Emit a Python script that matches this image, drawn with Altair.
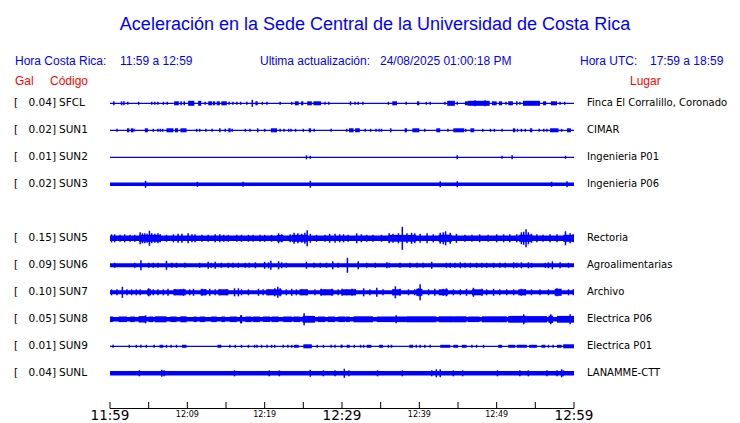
import altair as alt
import pandas as pd

# ---------------- texts ----------------
TITLE = "Aceleración en la Sede Central de la Universidad de Costa Rica"
HEADER_BLUE = ["Hora Costa Rica:", "11:59 a 12:59", "Ultima actualización:",
               "24/08/2025 01:00:18 PM", "Hora UTC:", "17:59 a 18:59"]
HEADER_RED = ["Gal", "Código", "Lugar"]

# ---------------- stations ----------------
CODES = ["SFCL", "SUN1", "SUN2", "SUN3", "SUN5", "SUN6", "SUN7", "SUN8", "SUN9", "SUNL"]
GAL = ["0.04]", "0.02]", "0.01]", "0.02]", "0.15]", "0.09]", "0.10]", "0.05]", "0.01]", "0.04]"]
PLACES = ["Finca El Corralillo, Coronado", "CIMAR", "Ingenieria P01", "Ingenieria P06",
          "Rectoria", "Agroalimentarias", "Archivo", "Electrica P06", "Electrica P01",
          "LANAMME-CTT"]
SLOT = [0, 1, 2, 3, 5, 6, 7, 8, 9, 10]          # trace order (slot 4 left empty)
BASE_AMP = [0.6, 0.6, 0.6, 1.8, 2.8, 2.0, 2.0, 2.2, 0.6, 2.3]   # background noise half-amplitude

# minutes after 11:59 ; amplitude (relative units)
SFCL_SPIKES = [(0.5, 2), (1.5, 2), (1.8, 2), (2.3, 1.5), (3.7, 1.5), (5.4, 1.5), (5.8, 1.5), (6.2, 1.5),
               (6.9, 1.5), (7.4, 1.5), (9.2, 2), (9.6, 2), (12.3, 1.5), (15.4, 1.5), (15.9, 1.5),
               (16.4, 1.5), (16.9, 1.5), (17.7, 1.5), (18.4, 3.5), (19.7, 1.5), (20.3, 1.5), (22.0, 1.5),
               (23.5, 1.5), (27.8, 1.5), (28.3, 1.5), (31.1, 2), (31.7, 1.5), (32.1, 1.5), (32.7, 1.5),
               (36.0, 1.5), (38.3, 1.5), (40.9, 1.5), (41.4, 1.5), (43.3, 1.5), (44.9, 1.5), (47.2, 3),
               (48.5, 3), (52.6, 2), (53.0, 1.5), (58.2, 1.5), (58.8, 1.5)]
SFCL_BURSTS = [(8.3, 8.9, 2), (10.1, 10.9, 2.5), (11.4, 11.8, 2.5), (12.7, 13.2, 2), (13.3, 13.6, 2),
               (13.8, 14.2, 2), (14.4, 15.1, 2), (18.8, 19.1, 2), (23.9, 24.4, 2), (24.7, 25.0, 2),
               (25.5, 26.1, 2), (26.3, 27.3, 2), (36.5, 37.1, 2), (39.7, 40.0, 2), (43.6, 44.6, 2.5),
               (45.9, 46.3, 2), (46.3, 49.1, 2.5), (49.4, 50.0, 2), (50.3, 50.7, 2), (51.1, 51.3, 1.5),
               (51.5, 52.1, 2), (53.4, 55.6, 2.5), (56.0, 56.4, 2), (57.0, 57.8, 2)]

SUN1_SPIKES = [(0.9, 1.5), (3.1, 1.5), (5.6, 1.5), (6.2, 1.5), (6.5, 1.5), (6.8, 1.5), (11.2, 1.5),
               (11.6, 1.5), (12.4, 1.5), (13.2, 1.5), (14.2, 2), (14.9, 1.5), (15.8, 1.5), (17.5, 1.5),
               (18.1, 1.5), (20.0, 1.5), (22.0, 1.5), (22.5, 1.5), (23.1, 1.5), (23.4, 1.5), (24.0, 1.5),
               (25.0, 1.5), (26.4, 1.5), (28.6, 1.5), (30.6, 1.5), (33.0, 1.5), (33.7, 1.5), (34.4, 1.5),
               (34.8, 1.5), (35.1, 1.5), (40.7, 1.5), (43.7, 1.5), (46.0, 1.5), (48.2, 1.5), (49.2, 1.5),
               (49.7, 1.5), (50.7, 1.5), (52.7, 1.5), (53.2, 1.5), (53.7, 1.5), (55.5, 1.5), (56.1, 1.5),
               (56.5, 1.5), (58.4, 1.5)]
SUN1_BURSTS = [(2.2, 2.5, 2), (2.7, 3.0, 2), (4.5, 4.9, 2), (7.3, 8.2, 2), (8.4, 8.8, 2), (9.1, 9.9, 2),
               (15.3, 15.6, 2), (19.0, 19.2, 2), (20.8, 21.6, 2), (25.7, 26.0, 2), (30.9, 31.5, 2),
               (31.7, 32.3, 2), (36.2, 36.4, 2), (38.1, 38.4, 2), (39.1, 40.0, 2), (42.2, 42.7, 2),
               (44.4, 45.8, 2), (46.6, 47.1, 2), (52.1, 52.4, 2), (54.3, 54.6, 2), (56.9, 58.0, 2),
               (59.1, 59.6, 2)]

SUN2_SPIKES = [(25.4, 2), (25.9, 1.5), (44.9, 2), (50.7, 1.5), (52.0, 2), (58.9, 1.5)]
SUN2_BURSTS = []

SUN3_SPIKES = [(4.6, 3.5), (11.3, 2.5), (17.2, 2.5), (25.9, 3.5), (42.7, 3), (44.9, 3), (57.1, 2.5),
               (59.1, 3)]
SUN3_BURSTS = []

SUN5_SPIKES = [(0.2, 4), (0.6, 4), (1.3, 3.5), (1.9, 4), (2.6, 3.5), (3.2, 3.5), (3.9, 6), (4.2, 5),
               (4.5, 5), (4.8, 4.5), (5.1, 7.5), (5.4, 5), (5.8, 4.5), (6.2, 5), (6.5, 4), (7.3, 3.5),
               (8.2, 4), (8.8, 4.5), (9.3, 4.5), (10.1, 5), (10.6, 4), (11.0, 4), (11.9, 3.5),
               (12.7, 3.5), (13.6, 4), (14.2, 4), (14.7, 3.5), (15.3, 3.5), (16.4, 3.5), (17.0, 3.5),
               (17.9, 3.5), (18.5, 3.5), (19.4, 3.5), (20.0, 3.5), (20.9, 3.5), (21.8, 5), (22.2, 4),
               (23.3, 4), (23.8, 5.5), (24.3, 5), (24.8, 4.5), (25.2, 5.5), (25.5, 8), (25.9, 4.5),
               (26.7, 3.5), (27.8, 3.5), (28.4, 4.5), (29.1, 4.5), (29.7, 4), (30.2, 4), (30.8, 3.5),
               (31.9, 5), (32.5, 4), (33.2, 3.5), (34.0, 3.5), (35.1, 3.5), (36.1, 5), (36.6, 4.5),
               (37.3, 5), (37.8, 11.5), (38.4, 5), (39.0, 5.5), (39.4, 5), (40.1, 4.5), (41.0, 5),
               (41.8, 4), (42.7, 5.5), (43.1, 6), (43.4, 7), (44.0, 5.5), (44.8, 4.5), (45.9, 3.5),
               (46.8, 3.5), (47.8, 4), (48.9, 3.5), (50.0, 4), (50.9, 4), (51.7, 4), (52.6, 4),
               (53.2, 6), (53.5, 6.5), (53.8, 9), (54.1, 6), (54.5, 4.5), (55.2, 4), (56.0, 3.5),
               (56.9, 4), (57.8, 4), (58.9, 7), (59.5, 5), (59.9, 4)]
SUN5_BURSTS = [(3.8, 6.6, 3.5), (21.6, 22.4, 3.3), (23.5, 25.6, 3.5), (36.0, 39.6, 3.4),
               (42.5, 44.2, 3.6), (52.9, 54.6, 3.6), (58.6, 60.0, 3.5)]

SUN6_SPIKES = [(0.6, 2.5), (3.2, 2.5), (4.0, 5), (5.0, 2.5), (5.6, 2.5), (6.2, 2.5), (7.3, 4.5),
               (8.0, 2.5), (8.6, 2.5), (9.7, 2.5), (11.6, 2.5), (12.7, 3.5), (13.1, 2.5), (13.6, 3.5),
               (14.4, 2.5), (15.3, 2.5), (15.9, 2.5), (16.6, 2.5), (17.5, 2.5), (18.0, 2.5), (18.8, 3),
               (20.0, 3.5), (20.5, 3), (20.8, 4.5), (21.8, 4), (22.2, 3), (22.8, 2.5), (25.4, 3.5),
               (26.4, 2.5), (27.2, 2.5), (28.0, 2.5), (28.8, 4), (29.5, 2.5), (30.7, 7.5), (32.1, 4),
               (33.2, 2.5), (34.3, 2.5), (35.8, 3), (36.1, 2.5), (37.5, 2.5), (38.8, 2.5), (39.7, 2.5),
               (40.5, 2.5), (41.6, 3.5), (43.5, 2.5), (44.0, 2.5), (44.6, 2.5), (45.3, 3), (45.9, 2.5),
               (46.6, 2.5), (47.4, 2.5), (48.1, 2.5), (48.7, 2.5), (49.6, 2.5), (50.4, 2.5), (51.1, 2.5),
               (52.2, 3), (52.6, 2.5), (53.2, 3), (54.1, 3), (54.5, 2.5), (56.3, 2.5), (56.7, 3),
               (57.2, 4), (58.2, 3), (59.3, 2.5)]
SUN6_BURSTS = []

SUN7_SPIKES = [(0.2, 3), (0.9, 3), (1.6, 5.5), (2.2, 3), (2.8, 3), (3.4, 3), (3.9, 3), (5.0, 4),
               (5.6, 3), (6.2, 3), (6.9, 3), (7.5, 3.5), (8.4, 3), (9.1, 3), (9.5, 3.5), (10.3, 3),
               (10.8, 3.5), (11.9, 3.5), (12.3, 3), (12.9, 3.5), (13.6, 3), (14.2, 3), (15.1, 3),
               (16.1, 4), (16.6, 4), (17.0, 3), (17.9, 3), (19.2, 3.5), (19.8, 3), (20.5, 3), (21.3, 4),
               (21.7, 5.5), (22.0, 4), (22.8, 3), (23.5, 3.5), (24.1, 3), (24.8, 3), (25.4, 3),
               (26.5, 3), (27.3, 3.5), (27.8, 3), (28.7, 3.5), (29.5, 3), (30.0, 3.5), (30.6, 3),
               (31.3, 3.5), (31.7, 3), (32.8, 4), (33.6, 3), (34.5, 4.5), (35.3, 3), (36.6, 3),
               (36.9, 6), (37.5, 3.5), (38.6, 3), (39.4, 3), (39.9, 4), (40.1, 8), (41.2, 3),
               (42.0, 3.5), (43.1, 3.5), (43.5, 4), (44.4, 3), (45.3, 3), (46.1, 3.5), (47.0, 4.5),
               (48.1, 3.5), (48.7, 3), (49.6, 3.5), (50.4, 3), (51.3, 3), (52.2, 3), (53.2, 3.5),
               (53.7, 3), (54.5, 3), (55.6, 3), (56.7, 3), (57.8, 4), (58.2, 3), (59.3, 3), (59.9, 3)]
SUN7_BURSTS = [(4.8, 5.3, 3), (8.2, 9.8, 3), (11.7, 12.5, 3), (14.0, 15.3, 3), (20.2, 22.2, 3),
               (24.5, 25.6, 3), (27.2, 28.9, 3), (30.0, 31.8, 3), (36.5, 37.6, 3), (39.6, 40.4, 3.5),
               (42.5, 43.7, 3), (46.8, 48.2, 3), (52.8, 53.8, 3), (57.5, 58.4, 3.5)]

SUN8_SPIKES = [(4.6, 4), (16.9, 4), (17.0, 4), (25.1, 6), (37.0, 4), (53.5, 5), (57.0, 5), (59.5, 5)]
SUN8_BURSTS = [(0.0, 0.4, 2.8), (1.1, 2.2, 2.8), (2.6, 3.2, 2.8), (3.7, 4.7, 3.2), (5.0, 5.6, 2.8),
               (5.8, 7.3, 3.0), (7.8, 8.6, 2.8), (9.1, 9.9, 3.0), (10.8, 11.2, 2.8), (11.6, 12.3, 2.8),
               (13.1, 13.8, 2.8), (14.4, 14.9, 2.8), (15.5, 16.4, 2.8), (17.5, 18.3, 2.8), (18.5, 19.4, 2.8),
               (19.8, 20.7, 2.8), (20.9, 21.8, 2.8), (22.4, 23.5, 2.8), (23.7, 24.6, 2.8), (24.9, 26.5, 3.4),
               (26.9, 27.8, 2.8), (28.2, 29.1, 2.8), (29.5, 30.4, 2.8), (30.5, 31.0, 2.8), (31.5, 34.0, 3.0),
               (34.5, 38.4, 2.8), (38.4, 42.2, 3.0), (42.5, 44.4, 3.0), (44.4, 46.1, 3.0),
               (46.3, 47.8, 2.8), (48.1, 51.3, 3.0), (51.5, 53.9, 3.4), (53.9, 56.5, 3.2),
               (56.7, 57.3, 3.6), (57.8, 60.0, 3.4)]

SUN9_SPIKES = [(0.4, 1.5), (2.5, 1.5), (3.4, 1.5), (4.0, 1.5), (4.7, 1.5), (5.7, 1.5), (7.3, 1.5),
               (7.9, 1.5), (8.6, 1.5), (15.5, 1.5), (16.2, 1.5), (17.0, 1.5), (17.9, 1.5), (18.7, 1.5),
               (19.0, 1.5), (19.6, 1.5), (20.3, 1.5), (21.3, 1.5), (22.4, 1.5), (23.0, 1.5), (23.5, 1.5),
               (26.8, 1.5), (27.6, 1.5), (28.6, 1.5), (29.1, 1.5), (29.9, 1.5), (30.0, 1.5), (32.4, 1.5),
               (32.8, 1.5), (36.0, 1.5), (36.4, 1.5), (39.6, 1.5), (40.1, 1.5), (40.7, 1.5), (41.4, 1.5),
               (46.8, 1.5), (47.4, 1.5), (48.3, 1.5), (56.7, 1.5), (57.3, 1.5)]
SUN9_BURSTS = [(6.4, 6.9, 1.5), (9.3, 9.9, 1.5), (13.9, 14.4, 1.5), (20.8, 21.0, 1.5), (23.8, 24.4, 1.5),
               (25.0, 26.1, 2), (30.6, 31.0, 1.5), (31.5, 31.7, 1.5), (33.2, 33.8, 1.5), (34.8, 35.3, 1.5),
               (38.7, 39.2, 1.5), (42.7, 44.0, 1.5), (44.4, 45.0, 1.5), (45.5, 46.1, 1.5),
               (50.2, 50.7, 1.5), (51.5, 52.4, 1.5), (52.6, 53.9, 1.5), (54.2, 55.2, 1.5),
               (55.8, 56.3, 1.5), (57.8, 58.4, 1.5), (58.6, 60.0, 2)]

SUNL_SPIKES = [(3.8, 3), (6.7, 3.5), (7.0, 3), (16.1, 3), (20.6, 3), (21.9, 3), (25.9, 3.5), (27.6, 3),
               (29.1, 3), (30.3, 4.5), (30.9, 3), (34.6, 3), (37.8, 3), (41.6, 3), (42.2, 4), (42.7, 4),
               (44.4, 3), (45.6, 3), (50.1, 3), (53.0, 3), (54.1, 3), (56.5, 3), (57.8, 3), (58.4, 4),
               (58.6, 3)]
SUNL_BURSTS = []

SPIKES = [SFCL_SPIKES, SUN1_SPIKES, SUN2_SPIKES, SUN3_SPIKES, SUN5_SPIKES,
          SUN6_SPIKES, SUN7_SPIKES, SUN8_SPIKES, SUN9_SPIKES, SUNL_SPIKES]
BURSTS = [SFCL_BURSTS, SUN1_BURSTS, SUN2_BURSTS, SUN3_BURSTS, SUN5_BURSTS,
          SUN6_BURSTS, SUN7_BURSTS, SUN8_BURSTS, SUN9_BURSTS, SUNL_BURSTS]

# ---------------- time axis ----------------
TICK_MIN = [0, 5, 10, 15, 20, 25, 30, 35, 40, 45, 50, 55, 60]
MAJOR_MIN = [0, 30, 60]
MAJOR_LABELS = ["11:59", "12:29", "12:59"]
MINOR_MIN = [10, 20, 40, 50]
MINOR_LABELS = ["12:09", "12:19", "12:39", "12:49"]

# ---------------- build tables ----------------
band_rows, burst_rows, spike_rows = [], [], []
for code, slot, base, sp, bu in zip(CODES, SLOT, BASE_AMP, SPIKES, BURSTS):
    band_rows.append({"code": code, "slot": slot, "t0": 0, "t1": 60, "amp": base})
    for t0, t1, a in bu:
        burst_rows.append({"code": code, "slot": slot, "t0": t0, "t1": t1, "amp": a})
    for t, a in sp:
        spike_rows.append({"code": code, "slot": slot, "t": t, "amp": a})
band_df = pd.DataFrame(band_rows)
burst_df = pd.DataFrame(burst_rows)
spike_df = pd.DataFrame(spike_rows)
station_df = pd.DataFrame({"code": CODES, "gal": GAL, "place": PLACES, "slot": SLOT})

BLUE = "#0000ff"
RED = "#ff0000"
HEAD_FONT = "Liberation Sans"
ROW_FONT = "DejaVu Sans"
ROW_SIZE = 10.5
PLACE_SIZE = 10
K = 1 / 27.0  # amplitude units per slot

XS = alt.Scale(domain=[0, 60], range=[102, 566], nice=False, zero=False)
YS = alt.Scale(domain=[0, 10], range=[95.3, 365.3], nice=False, zero=False)


def rect_layer(df):
    return alt.Chart(df).transform_calculate(
        lo=f"datum.slot - datum.amp * {K}", hi=f"datum.slot + datum.amp * {K}"
    ).mark_rect(color=BLUE).encode(
        x=alt.X("t0:Q", scale=XS, axis=None),
        x2="t1:Q",
        y=alt.Y("lo:Q", scale=YS, axis=None),
        y2="hi:Q",
    )


bands = rect_layer(band_df)
bursts = rect_layer(burst_df)
spikes = alt.Chart(spike_df).transform_calculate(
    lo=f"datum.slot - datum.amp * {K}", hi=f"datum.slot + datum.amp * {K}"
).mark_rule(color=BLUE, strokeWidth=1.5).encode(
    x=alt.X("t:Q", scale=XS, axis=None),
    y=alt.Y("lo:Q", scale=YS, axis=None),
    y2="hi:Q",
)


def label(x, y, text, size, color, font, align="left", baseline="alphabetic"):
    return alt.Chart(pd.DataFrame({"s": [text]})).mark_text(
        align=align, baseline=baseline, fontSize=size, color=color, font=font
    ).encode(x=alt.value(x), y=alt.value(y), text="s:N")


texts = [
    label(367, 21.5, TITLE, 18, BLUE, HEAD_FONT, align="center"),
    label(7, 57, HEADER_BLUE[0], 12, BLUE, HEAD_FONT),
    label(112, 57, HEADER_BLUE[1], 12, BLUE, HEAD_FONT),
    label(252, 57, HEADER_BLUE[2], 12, BLUE, HEAD_FONT),
    label(372, 57, HEADER_BLUE[3], 12, BLUE, HEAD_FONT),
    label(572, 57, HEADER_BLUE[4], 12, BLUE, HEAD_FONT),
    label(642, 57, HEADER_BLUE[5], 12, BLUE, HEAD_FONT),
    label(7, 76.5, HEADER_RED[0], 12, RED, HEAD_FONT),
    label(42, 76.5, HEADER_RED[1], 12, RED, HEAD_FONT),
    label(622, 76.5, HEADER_RED[2], 12, RED, HEAD_FONT),
]


def row_text(field, x, align, size):
    return alt.Chart(station_df).mark_text(
        align=align, baseline="middle", fontSize=size, color="black", font=ROW_FONT
    ).encode(x=alt.value(x), y=alt.Y("slot:Q", scale=YS, axis=None), text=f"{field}:N")


bracket = alt.Chart(station_df).mark_text(
    align="left", baseline="middle", fontSize=ROW_SIZE, color="black", font=ROW_FONT, text="["
).encode(x=alt.value(6), y=alt.Y("slot:Q", scale=YS, axis=None))
gal_txt = row_text("gal", 48, "right", ROW_SIZE)
code_txt = row_text("code", 51, "left", ROW_SIZE)
place_txt = row_text("place", 579, "left", PLACE_SIZE)

# time axis
axis_line = alt.Chart(pd.DataFrame({"a": [0], "b": [60]})).mark_rule(
    color="black", strokeWidth=1
).encode(x=alt.X("a:Q", scale=XS, axis=None), x2="b:Q", y=alt.value(400.5))
ticks = alt.Chart(pd.DataFrame({"t": TICK_MIN})).mark_rule(color="black", strokeWidth=1).encode(
    x=alt.X("t:Q", scale=XS, axis=None), y=alt.value(394), y2=alt.value(400.5)
)
major = alt.Chart(pd.DataFrame({"t": MAJOR_MIN, "s": MAJOR_LABELS})).mark_text(
    align="center", baseline="alphabetic", fontSize=13.5, color="black", font=ROW_FONT
).encode(x=alt.X("t:Q", scale=XS, axis=None), y=alt.value(412), text="s:N")
minor = alt.Chart(pd.DataFrame({"t": MINOR_MIN, "s": MINOR_LABELS})).mark_text(
    align="center", baseline="alphabetic", fontSize=8, color="black", font=ROW_FONT
).encode(x=alt.X("t:Q", scale=XS, axis=None), y=alt.value(409.3), text="s:N")

chart = alt.layer(
    bands, bursts, spikes, bracket, gal_txt, code_txt, place_txt,
    axis_line, ticks, major, minor, *texts
).properties(
    width=724, height=415, padding=0,
    autosize=alt.AutoSizeParams(type="none"),
    background="white",
).configure_view(strokeWidth=0)

chart.save("out.html", embed_options={"renderer": "svg", "actions": False})
